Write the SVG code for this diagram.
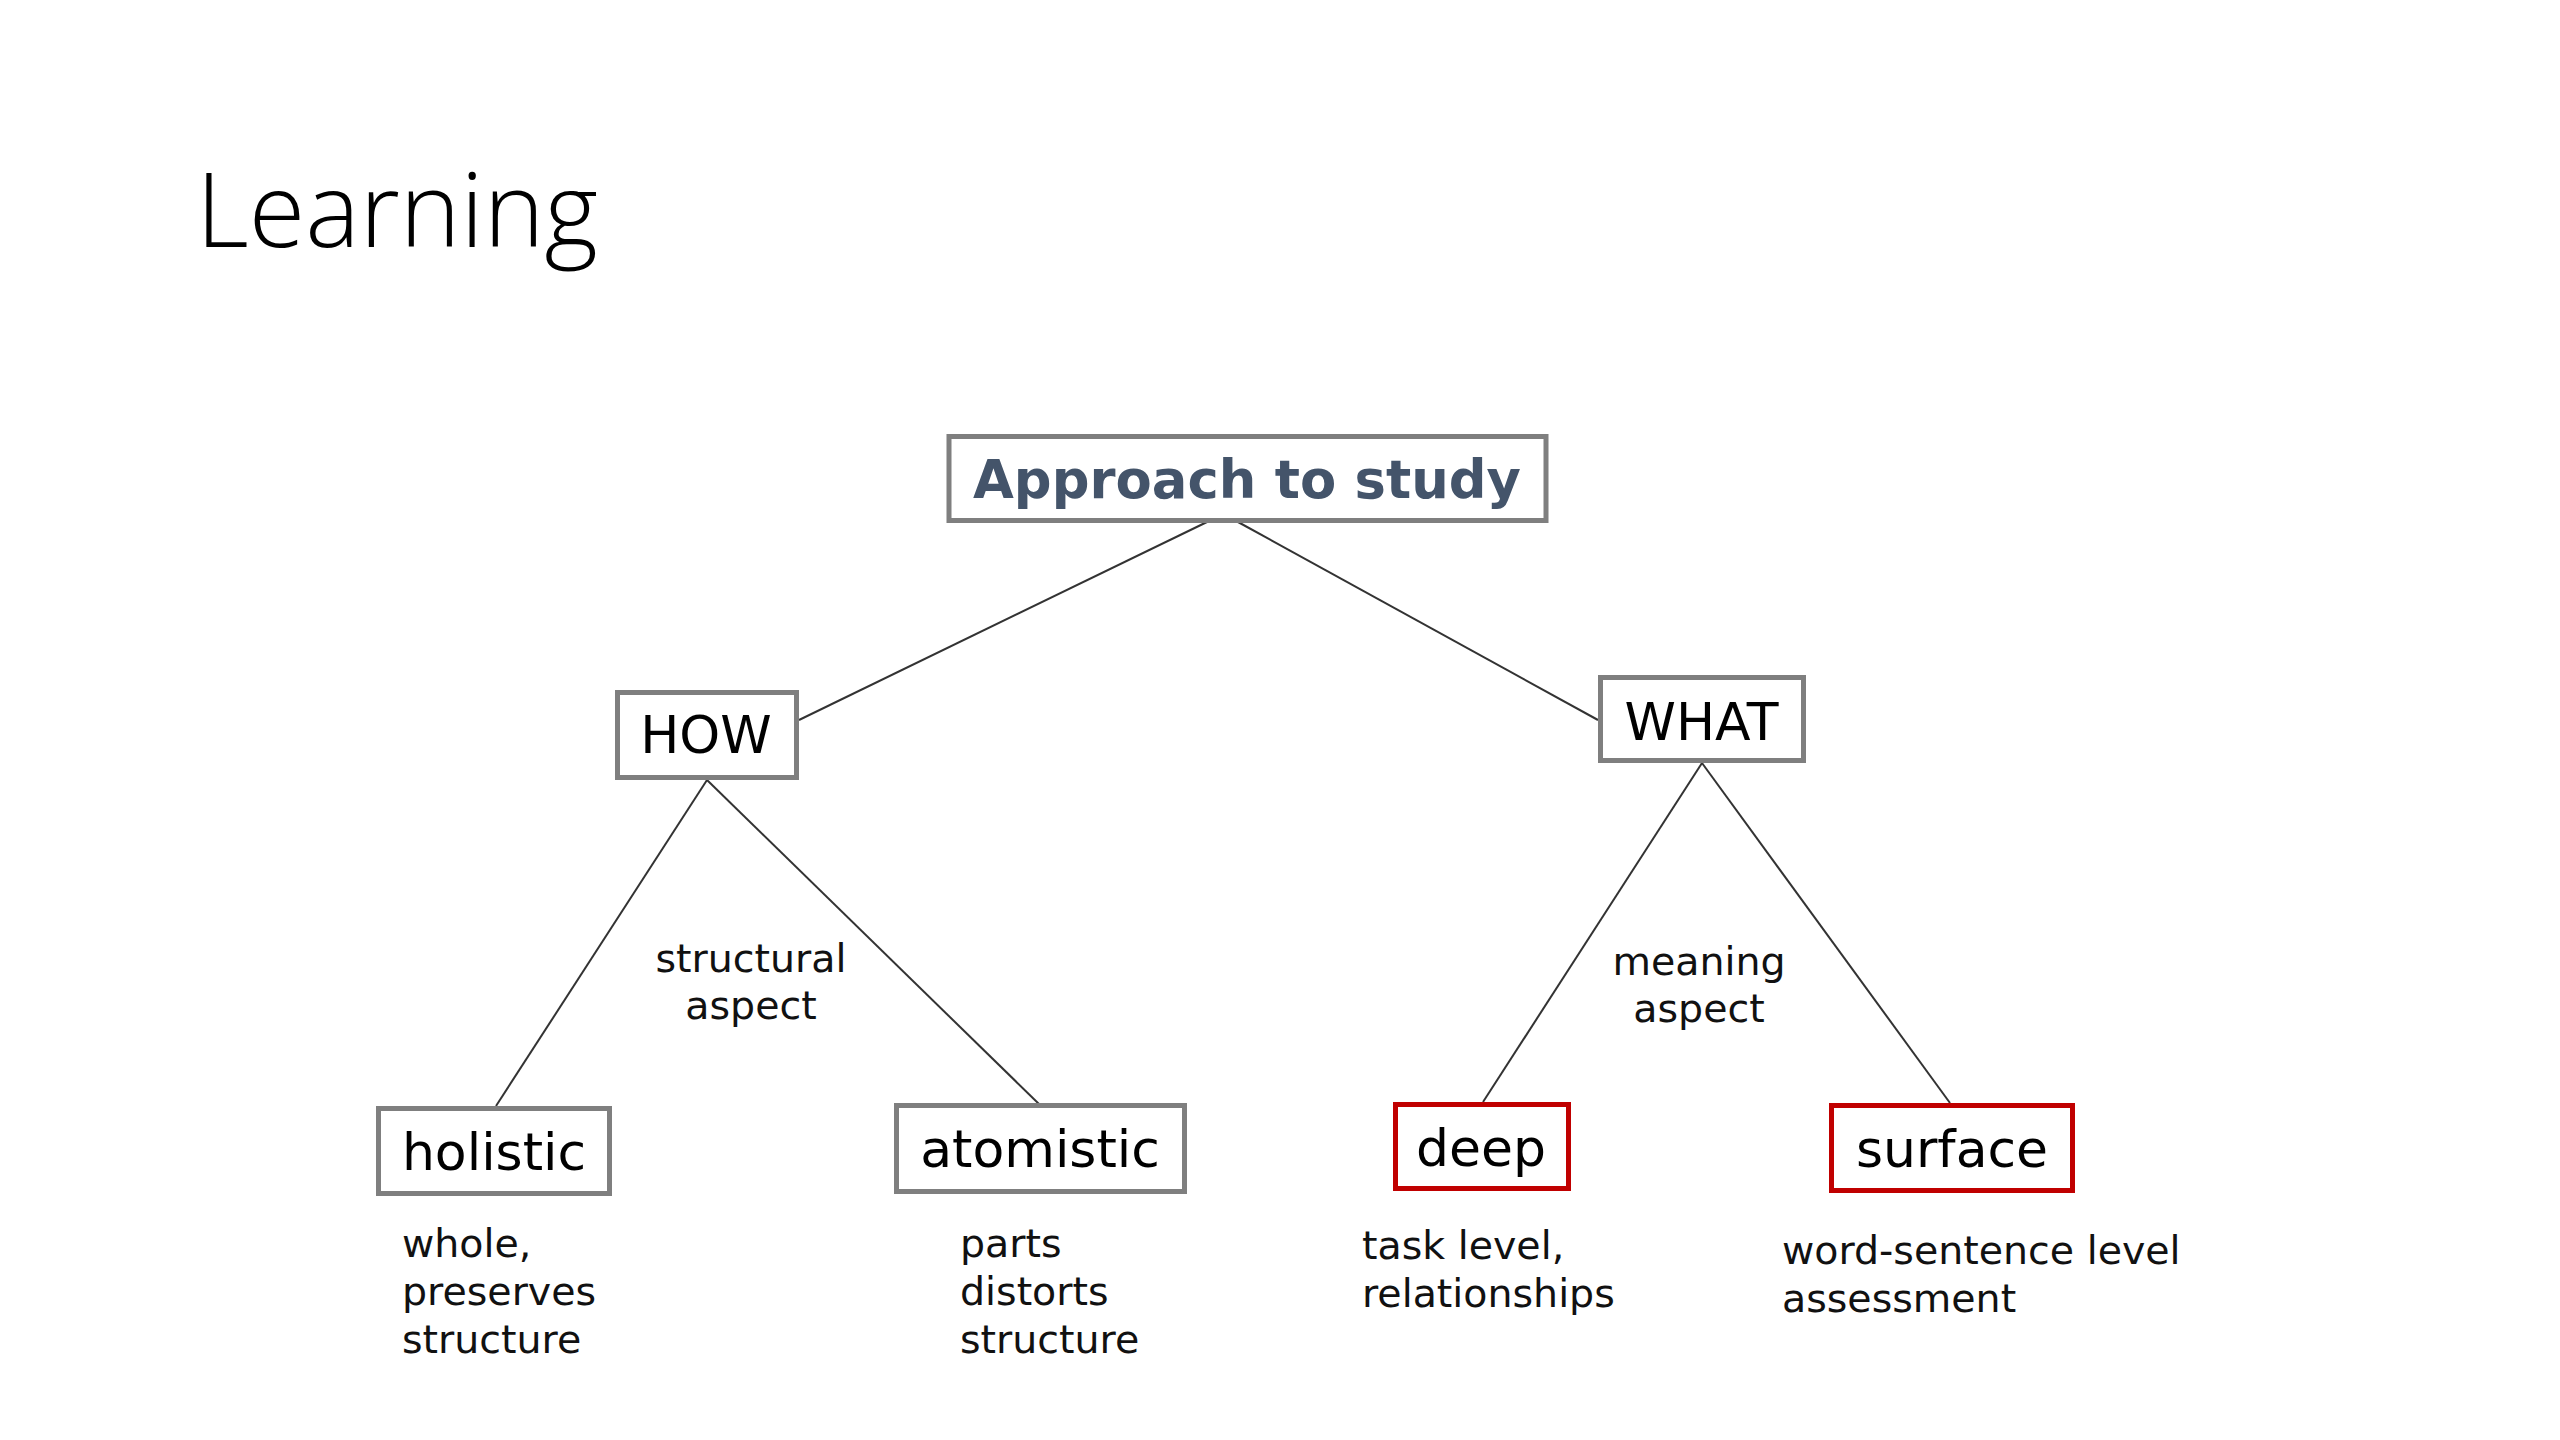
<svg xmlns="http://www.w3.org/2000/svg" width="2560" height="1440" viewBox="0 0 2560 1440">
  <style>
    .box { fill: #ffffff; stroke: #7f7f7f; stroke-width: 5; }
    .red { fill: #ffffff; stroke: #c00000; stroke-width: 5; }
    .node { font-family: 'DejaVu Sans', Verdana, sans-serif; font-size: 52px; fill: #000000; text-anchor: middle; }
    .lbl { font-family: 'DejaVu Sans', Verdana, sans-serif; font-size: 39.5px; fill: #111111; }
    .mid { text-anchor: middle; }
    .conn line { stroke: #333333; stroke-width: 2; }
  </style>
  <rect x="0" y="0" width="2560" height="1440" fill="#ffffff"/>
  <text x="196" y="247" font-family="'Open Sans', 'Noto Sans', sans-serif" font-weight="300" font-size="104" fill="#000000" textLength="402" lengthAdjust="spacingAndGlyphs">Learning</text>

  <g id="connectors" class="conn">
    <line x1="1207" y1="522" x2="799" y2="720"/>
    <line x1="1238" y1="522" x2="1598" y2="720"/>
    <line x1="707" y1="780" x2="496" y2="1106"/>
    <line x1="707" y1="780" x2="1039" y2="1104"/>
    <line x1="1702" y1="763" x2="1483" y2="1102"/>
    <line x1="1702" y1="763" x2="1950" y2="1103"/>
  </g>

  <g id="node-approach">
    <rect class="box" x="949" y="436.5" width="597" height="84"/>
    <text x="1247" y="498" font-family="'DejaVu Sans', Verdana, sans-serif" font-weight="bold" font-size="54" fill="#44546a" text-anchor="middle" textLength="548" lengthAdjust="spacingAndGlyphs">Approach to study</text>
  </g>

  <g id="node-how">
    <rect class="box" x="617.5" y="692.5" width="179" height="85"/>
    <text class="node" x="706" y="753">HOW</text>
  </g>

  <g id="node-what">
    <rect class="box" x="1600.5" y="677.5" width="203" height="83"/>
    <text class="node" x="1701.5" y="740">WHAT</text>
  </g>

  <g id="node-holistic">
    <rect class="box" x="378.5" y="1108.5" width="231" height="85"/>
    <text class="node" x="494" y="1170">holistic</text>
  </g>

  <g id="node-atomistic">
    <rect class="box" x="896.5" y="1105.5" width="288" height="86"/>
    <text class="node" x="1040" y="1167">atomistic</text>
  </g>

  <g id="node-deep">
    <rect class="red" x="1395.5" y="1104.5" width="173" height="84"/>
    <text class="node" x="1481" y="1166">deep</text>
  </g>

  <g id="node-surface">
    <rect class="red" x="1831.5" y="1105.5" width="241" height="85"/>
    <text class="node" x="1952" y="1167">surface</text>
  </g>

  <g id="label-structural">
    <text class="lbl mid" x="751" y="972">structural</text>
    <text class="lbl mid" x="751" y="1019">aspect</text>
  </g>
  <g id="label-meaning">
    <text class="lbl mid" x="1699" y="975">meaning</text>
    <text class="lbl mid" x="1699" y="1022">aspect</text>
  </g>
  <g id="label-holistic">
    <text class="lbl" x="402" y="1257">whole,</text>
    <text class="lbl" x="402" y="1305">preserves</text>
    <text class="lbl" x="402" y="1353">structure</text>
  </g>
  <g id="label-atomistic">
    <text class="lbl" x="960" y="1257">parts</text>
    <text class="lbl" x="960" y="1305">distorts</text>
    <text class="lbl" x="960" y="1353">structure</text>
  </g>
  <g id="label-deep">
    <text class="lbl" x="1362" y="1259">task level,</text>
    <text class="lbl" x="1362" y="1307">relationships</text>
  </g>
  <g id="label-surface">
    <text class="lbl" x="1782" y="1264">word-sentence level</text>
    <text class="lbl" x="1782" y="1312">assessment</text>
  </g>
</svg>
